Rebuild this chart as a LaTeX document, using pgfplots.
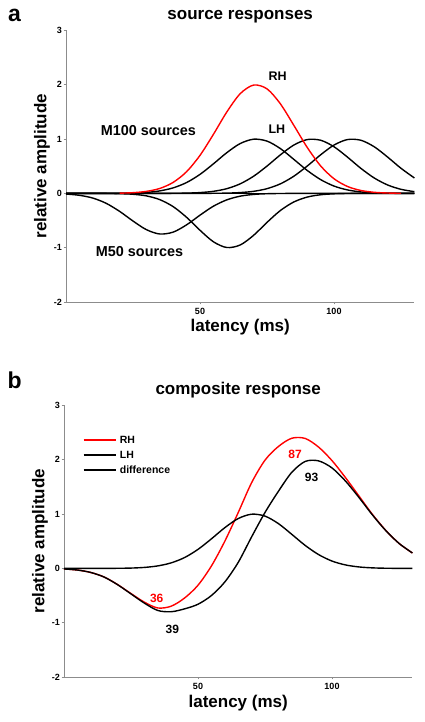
\documentclass[border=0pt]{standalone}
\usepackage{fontspec}
\setmainfont{Liberation Sans}
\usepackage{pgfplots}
\pgfplotsset{compat=1.18}
\definecolor{axgray}{RGB}{140,140,140}
\pgfplotsset{
  myax/.style={
    scale only axis, width=348.4pt, height=271.5pt,
    xmin=0, xmax=130, ymin=-2, ymax=3,
    axis x line*=bottom, axis y line*=left,
    axis line style={draw=axgray, line width=0.6pt},
    xtick={50,100}, ytick={-2,-1,0,1,2,3},
    tick style={draw=axgray, line width=0.6pt},
    tick align=outside, major tick length=2.5pt,
    ticklabel style={font=\bfseries\fontsize{9}{10}\selectfont, text=black},
    yticklabel style={inner sep=1.5pt},
    /pgf/number format/assume math mode=true,
    clip=false,
    every axis plot/.append style={line width=1.4pt, smooth},
  },
}
\tikzset{
  ttl/.style={anchor=base, font=\bfseries\fontsize{17}{20}\selectfont},
  ann/.style={inner sep=0pt, font=\bfseries\fontsize{12.5}{14}\selectfont},
}
\begin{document}
\begin{tikzpicture}
\path[use as bounding box] (0pt,0pt) rectangle (424pt,722pt);
\node[anchor=base west, inner sep=0pt, font=\bfseries\fontsize{23}{26}\selectfont] at (8pt,700.3pt) {a};
\node[anchor=base west, inner sep=0pt, font=\bfseries\fontsize{23}{26}\selectfont] at (7.5pt,333pt) {b};

% ---------------- panel a ----------------
\begin{axis}[myax, at={(66pt,420pt)}, anchor=south west]
\addplot[black, line width=1.6pt] coordinates {(0,0) (130,0)};
\addplot[black] coordinates {(0,-0.012) (5,-0.035) (10,-0.086) (15,-0.183) (20,-0.331) (25,-0.509) (30,-0.668) (35,-0.748) (40,-0.713) (45,-0.579) (50,-0.401) (55,-0.236) (60,-0.119) (65,-0.051) (70,-0.019) (75,-0.006) (80,-0.002) (85,0) (90,0) (130,0)};
\addplot[black] coordinates {(0,0) (5,0) (10,0) (15,-0.001) (20,-0.005) (25,-0.016) (30,-0.046) (35,-0.115) (40,-0.244) (45,-0.441) (50,-0.679) (55,-0.891) (60,-0.997) (65,-0.950) (70,-0.772) (75,-0.534) (80,-0.315) (85,-0.158) (90,-0.068) (95,-0.025) (100,-0.008) (105,-0.002) (110,0) (130,0)};
\addplot[black] coordinates {(0,0) (10,0) (15,0.001) (20,0.002) (25,0.006) (30,0.018) (35,0.046) (40,0.102) (45,0.200) (50,0.350) (55,0.544) (60,0.750) (65,0.918) (70,0.998) (75,0.963) (80,0.825) (85,0.627) (90,0.423) (95,0.254) (100,0.135) (105,0.064) (110,0.027) (115,0.010) (120,0.003) (125,0.001) (130,0)};
\addplot[black] coordinates {(0,0) (30,0) (35,0) (40,0.002) (45,0.005) (50,0.015) (55,0.038) (60,0.087) (65,0.176) (70,0.316) (75,0.503) (80,0.710) (85,0.890) (90,0.991) (95,0.979) (100,0.859) (105,0.669) (110,0.462) (115,0.284) (120,0.155) (125,0.075) (130,0.032)};
\addplot[black] coordinates {(0,0) (45,0) (50,0) (55,0.002) (60,0.005) (65,0.015) (70,0.038) (75,0.087) (80,0.176) (85,0.316) (90,0.503) (95,0.710) (100,0.890) (105,0.991) (110,0.979) (115,0.859) (120,0.669) (125,0.462) (130,0.284)};
\addplot[red] coordinates {(20,0.004) (25,0.013) (30,0.037) (35,0.091) (40,0.203) (45,0.400) (50,0.700) (55,1.087) (60,1.499) (65,1.836) (70,1.995) (75,1.925) (80,1.649) (85,1.254) (90,0.847) (95,0.507) (100,0.270) (105,0.128) (110,0.054) (115,0.020) (120,0.007) (125,0.002)};
\node[ttl] at (rel axis cs:0.5,1) [yshift=11pt] {source responses};
\node[ttl] at (rel axis cs:0.5,0) [yshift=-29.7pt] {latency (ms)};
\node[ttl, xshift=-19.5pt, rotate=90] at (rel axis cs:0,0.5) {relative amplitude};
\node[ann, anchor=base west] at (axis cs:75.5,2.085) {RH};
\node[ann, anchor=base west] at (axis cs:75.5,1.11) {LH};
\node[ann, anchor=base west, font=\bfseries\fontsize{14.4}{16}\selectfont] at (axis cs:12.9,1.073) {M100 sources};
\node[ann, anchor=base west, font=\bfseries\fontsize{14.4}{16}\selectfont] at (axis cs:11.1,-1.164) {M50 sources};
\end{axis}

% ---------------- panel b ----------------
\begin{axis}[myax, at={(64pt,45pt)}, anchor=south west,
  legend style={at={(0.054,0.902)}, anchor=north west, draw=none, fill=none,
    inner sep=0pt, font=\bfseries\fontsize{10.5}{12}\selectfont,
    nodes={inner sep=1pt, text height=10pt, text depth=3pt},
    /tikz/every odd column/.append style={column sep=2.5pt}},
  legend cell align=left,
  legend image code/.code={\draw[#1] (0pt,0pt) -- (32pt,0pt);}]
\addplot[red] coordinates {(0,-0.010) (5,-0.030) (10,-0.075) (15,-0.159) (20,-0.298) (25,-0.464) (30,-0.622) (35,-0.729) (40,-0.696) (45,-0.545) (50,-0.310) (55,0.044) (60,0.500) (65,1.028) (70,1.578) (75,1.993) (80,2.245) (85,2.397) (90,2.393) (95,2.234) (100,1.985) (105,1.674) (110,1.337) (115,1.000) (120,0.703) (125,0.461) (130,0.284)};
\addlegendentry{RH}
\addplot[black] coordinates {(0,-0.010) (5,-0.030) (10,-0.075) (15,-0.160) (20,-0.300) (25,-0.470) (30,-0.640) (35,-0.775) (40,-0.798) (45,-0.745) (50,-0.660) (55,-0.500) (60,-0.250) (65,0.110) (70,0.580) (75,1.030) (80,1.420) (85,1.770) (90,1.970) (95,1.980) (100,1.850) (105,1.610) (110,1.310) (115,0.990) (120,0.700) (125,0.461) (130,0.284)};
\addlegendentry{LH}
\addplot[black] coordinates {(0,0) (10,0) (15,0.001) (20,0.002) (25,0.006) (30,0.018) (35,0.046) (40,0.102) (45,0.200) (50,0.350) (55,0.544) (60,0.750) (65,0.918) (70,0.998) (75,0.963) (80,0.825) (85,0.627) (90,0.423) (95,0.254) (100,0.135) (105,0.064) (110,0.027) (115,0.010) (120,0.003) (125,0.001) (130,0)};
\addlegendentry{difference}
\node[ttl] at (rel axis cs:0.5,1) [yshift=11pt] {composite response};
\node[ttl] at (rel axis cs:0.5,0) [yshift=-30.5pt] {latency (ms)};
\node[ttl, xshift=-19.5pt, rotate=90] at (rel axis cs:0,0.5) {relative amplitude};
\node[ann, anchor=base, text=red, font=\bfseries\fontsize{12}{14}\selectfont] at (axis cs:34.6,-0.626) {36};
\node[ann, anchor=base, font=\bfseries\fontsize{12}{14}\selectfont] at (axis cs:40.4,-1.203) {39};
\node[ann, anchor=base, text=red, font=\bfseries\fontsize{12}{14}\selectfont] at (axis cs:86.2,2.033) {87};
\node[ann, anchor=base, font=\bfseries\fontsize{12}{14}\selectfont] at (axis cs:92.4,1.597) {93};
\end{axis}
\end{tikzpicture}
\end{document}
